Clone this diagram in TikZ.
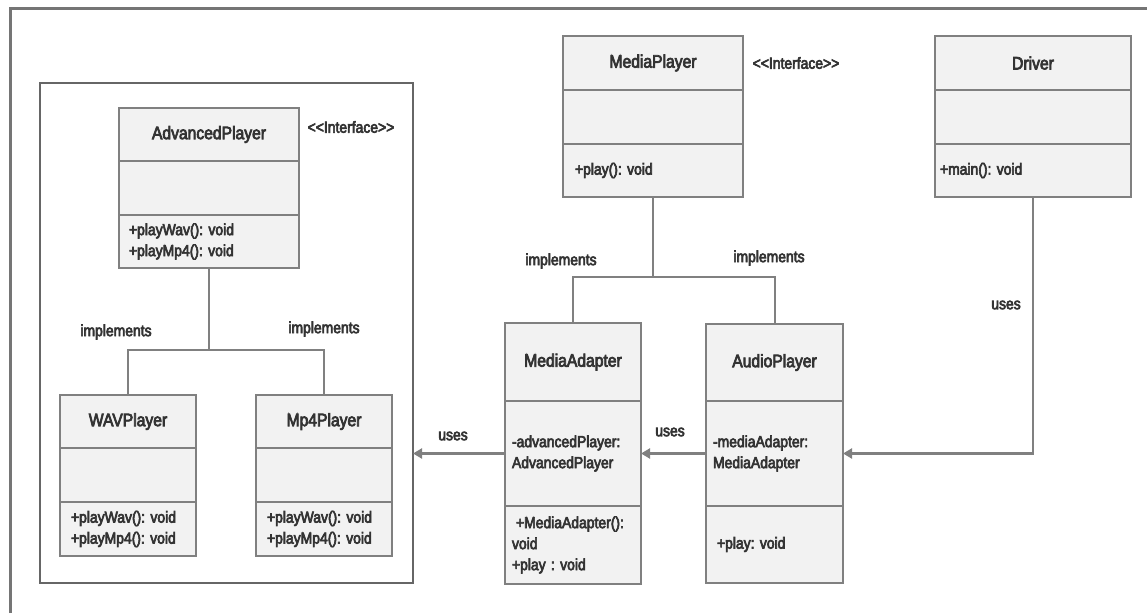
\documentclass[tikz,border=0pt]{standalone}
\usepackage{fontspec}
\newfontfamily\umlfont[FakeStretch=0.87,FakeBold=4]{Liberation Sans}
\usepackage{xcolor}
\definecolor{edge}{HTML}{808080}
\definecolor{pkgline}{HTML}{666666}
\definecolor{boxfill}{HTML}{F2F2F2}
\definecolor{ink}{HTML}{333333}
\usepackage{tikz}
\usetikzlibrary{positioning,arrows.meta}
\frenchspacing

\begin{document}
\begin{tikzpicture}[
  x=1pt, y=-1pt,
  font=\umlfont\fontsize{16}{21}\selectfont, text=ink,
  >={Triangle[length=9pt,width=10pt]},
  part/.style={draw=edge,line width=2pt,fill=boxfill,outer sep=0pt,inner sep=0pt},
  head/.style={part,font=\umlfont\fontsize{18}{21}\selectfont},
  ops/.style={part,align=left,inner xsep=10pt},
  link/.style={draw=edge,line width=2pt},
  uses/.style={draw=edge,line width=2.6pt,->},
  pkg/.style={draw=pkgline,line width=2.5pt,outer sep=0pt,inner sep=0pt},
  outer/.style={draw=pkgline!90,line width=3pt},
  lbl/.style={inner sep=0pt},
]
\useasboundingbox (0,0) rectangle (1147,613);

% --- page frame (only top and left edges show)
\coordinate (fbl) at (10,613);
\coordinate (ftl) at (10,8);
\coordinate (ftr) at (1147,8);
\draw[outer] (fbl) -- (ftl) -- (ftr);

% --- package around the advanced players
\node[pkg,minimum width=373pt,minimum height=500pt,anchor=north west] (pkg) at (40,83) {};

% --- AdvancedPlayer
\node[head,minimum width=180pt,minimum height=53pt,anchor=north west] (adv) at (119,108) {AdvancedPlayer};
\node[part,minimum width=180pt,minimum height=54pt,below=0pt of adv] (advattr) {};
\node[ops,text width=160pt,minimum height=53pt,below=0pt of advattr] (advops)
     {+playWav(): void\\+playMp4(): void};
\node[lbl] (iface1) at (351,127) {<<Interface>>};

% --- WAVPlayer, Mp4Player
\node[head,minimum width=136pt,minimum height=53pt,anchor=north west] (wav) at (60,395) {WAVPlayer};
\node[part,minimum width=136pt,minimum height=54pt,below=0pt of wav] (wavattr) {};
\node[ops,inner xsep=11pt,text width=114pt,minimum height=54pt,below=0pt of wavattr] (wavops)
     {+playWav(): void\\+playMp4(): void};
\node[head,minimum width=136pt,minimum height=53pt,anchor=north west] (mp4) at (256,395) {Mp4Player};
\node[part,minimum width=136pt,minimum height=54pt,below=0pt of mp4] (mp4attr) {};
\node[ops,inner xsep=11pt,text width=114pt,minimum height=54pt,below=0pt of mp4attr] (mp4ops)
     {+playWav(): void\\+playMp4(): void};

% --- MediaPlayer
\node[head,minimum width=180pt,minimum height=54pt,anchor=north west] (mp) at (563,36) {MediaPlayer};
\node[part,minimum width=180pt,minimum height=54pt,below=0pt of mp] (mpattr) {};
\node[ops,inner xsep=12pt,text width=156pt,minimum height=53pt,below=0pt of mpattr] (mpops)
     {+play(): void};
\node[lbl] (iface2) at (796,63) {<<Interface>>};

% --- Driver
\node[head,minimum width=196pt,minimum height=54pt,anchor=north west] (drv) at (935,36) {Driver};
\node[part,minimum width=196pt,minimum height=54pt,below=0pt of drv] (drvattr) {};
\node[ops,inner xsep=5pt,text width=186pt,minimum height=53pt,below=0pt of drvattr] (drvops)
     {+main(): void};

% --- MediaAdapter
\node[head,minimum width=136pt,minimum height=78pt,anchor=north west] (ad) at (505,323) {MediaAdapter};
\node[ops,inner xsep=7pt,text width=122pt,minimum height=105pt,below=0pt of ad] (adattr)
     {-advancedPlayer:\\AdvancedPlayer};
\node[ops,inner xsep=7pt,text width=122pt,minimum height=78pt,below=0pt of adattr] (adops)
     {\hspace{4pt}+MediaAdapter():\\void\\+play : void};

% --- AudioPlayer
\node[head,minimum width=137pt,minimum height=77pt,anchor=north west] (aud) at (706,324) {AudioPlayer};
\node[ops,inner xsep=7pt,text width=123pt,minimum height=105pt,below=0pt of aud] (audattr)
     {-mediaAdapter:\\MediaAdapter};
\node[ops,inner xsep=11pt,text width=115pt,minimum height=77pt,below=0pt of audattr] (audops)
     {+play: void};

% --- implements
\coordinate (advjoin) at (209,350);
\draw[link] (advops.south) -- (advjoin);
\draw[link] (wav.north) |- (advjoin) -| (mp4.north);
\node[lbl] (impl1) at (116,332) {implements};
\node[lbl] (impl2) at (324,329) {implements};

\coordinate (mpjoin) at (653,277);
\draw[link] (mpops.south) -- (mpjoin);
\draw[link] (ad.north) |- (mpjoin) -| (aud.north);
\node[lbl] (impl3) at (561,261) {implements};
\node[lbl] (impl4) at (769,258) {implements};

% --- uses
\draw[uses] (adattr.west) -- (adattr.west -| pkg.east);
\draw[uses] (audattr.west) -- (adattr.east);
\draw[uses] (drvops.south) |- (audattr.east);
\node[lbl] (uses1) at (453,436) {uses};
\node[lbl] (uses2) at (670,432) {uses};
\node[lbl] (uses3) at (1006,305) {uses};

\end{tikzpicture}
\end{document}
